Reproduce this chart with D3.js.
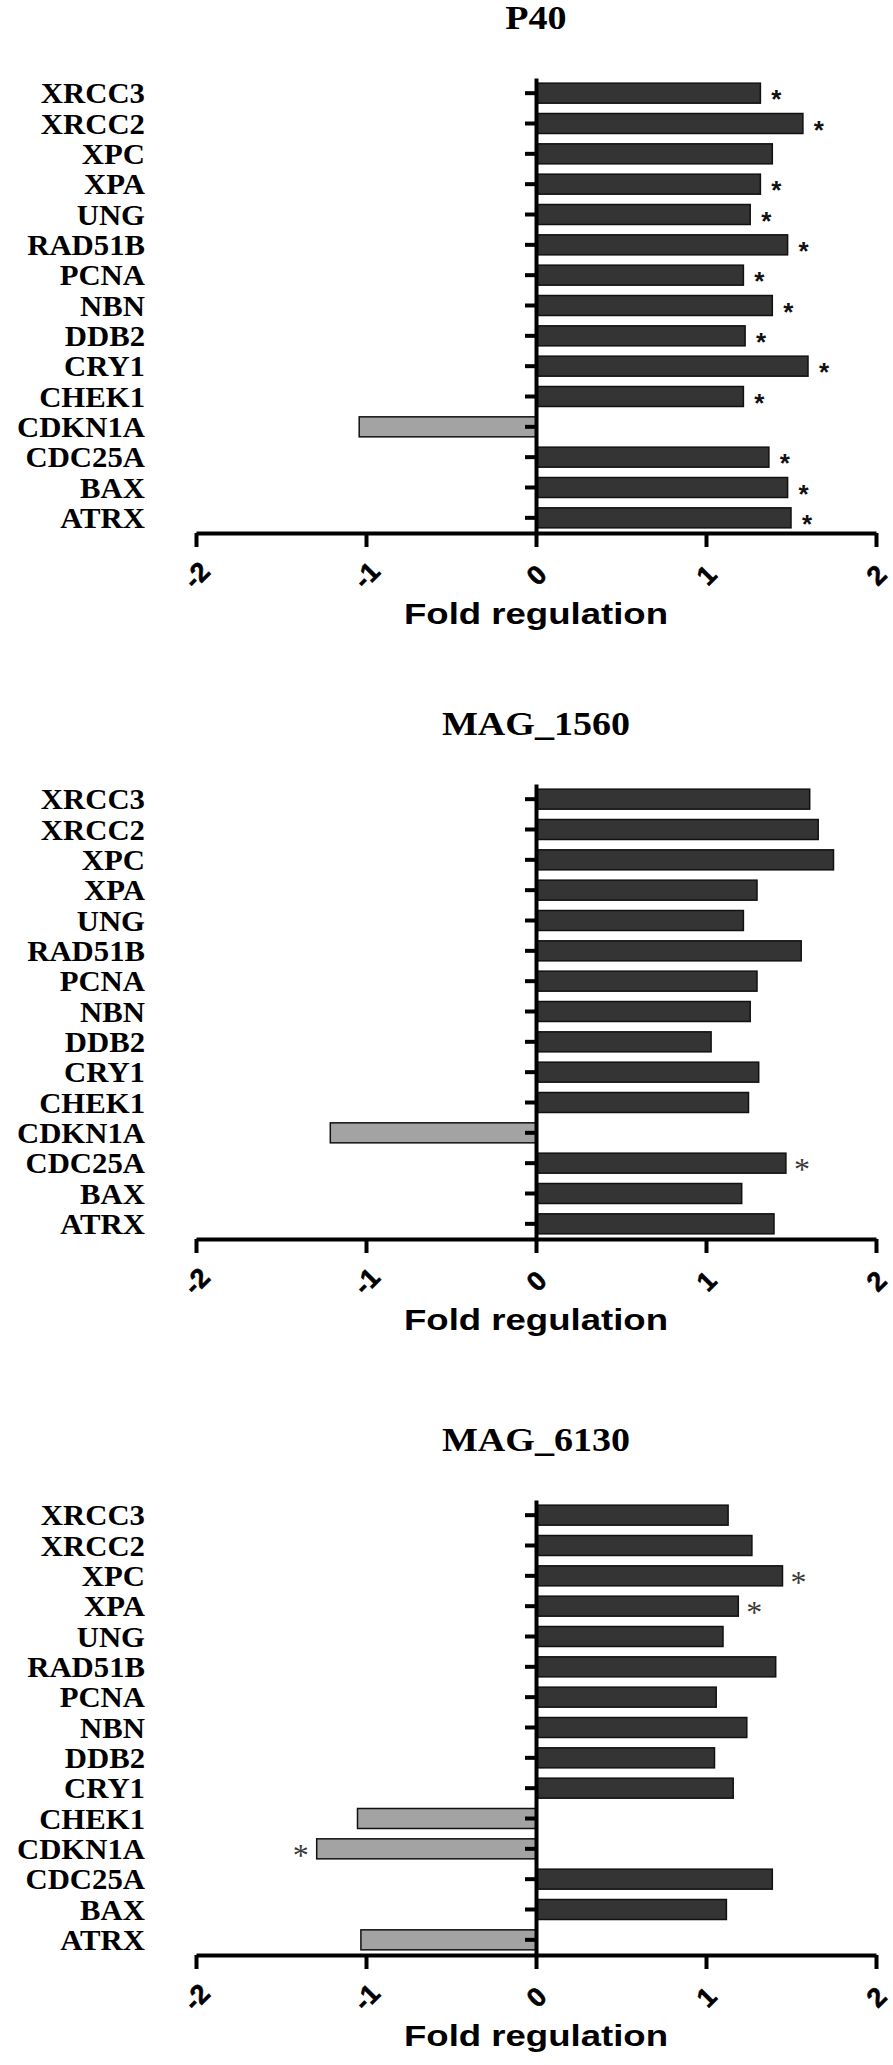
<!DOCTYPE html>
<html>
<head>
<meta charset="utf-8">
<script src="https://d3js.org/d3.v7.min.js"></script>
<style>
  body { margin: 0; background: #fff; }
</style>
</head>
<body>
<div id="chart"></div>
<script>
// genes, top to bottom
var genes = ["XRCC3", "XRCC2", "XPC", "XPA", "UNG", "RAD51B", "PCNA", "NBN",
             "DDB2", "CRY1", "CHEK1", "CDKN1A", "CDC25A", "BAX", "ATRX"];

var titles = ["P40", "MAG_1560", "MAG_6130"];

// fold regulation
var p40Values     = [1.32, 1.57, 1.39, 1.32, 1.26, 1.48, 1.22, 1.39, 1.23, 1.60, 1.22, -1.04, 1.37, 1.48, 1.50];
var mag1560Values = [1.61, 1.66, 1.75, 1.30, 1.22, 1.56, 1.30, 1.26, 1.03, 1.31, 1.25, -1.21, 1.47, 1.21, 1.40];
var mag6130Values = [1.13, 1.27, 1.45, 1.19, 1.10, 1.41, 1.06, 1.24, 1.05, 1.16, -1.05, -1.29, 1.39, 1.12, -1.03];

// significance stars (1 = *)
var p40Sig     = [1, 1, 0, 1, 1, 1, 1, 1, 1, 1, 1, 0, 1, 1, 1];
var mag1560Sig = [0, 0, 0, 0, 0, 0, 0, 0, 0, 0, 0, 0, 1, 0, 0];
var mag6130Sig = [0, 0, 1, 1, 0, 0, 0, 0, 0, 0, 0, 1, 0, 0, 0];

var xTicks = [-2, -1, 0, 1, 2];
var xTickLabels = ["-2", "-1", "0", "1", "2"];
var xLabel = "Fold regulation";

var panels = [
  { title: titles[0], values: p40Values, sig: p40Sig, offset: 0, boldStar: true },
  { title: titles[1], values: mag1560Values, sig: mag1560Sig, offset: 706, boldStar: false },
  { title: titles[2], values: mag6130Values, sig: mag6130Sig, offset: 1422, boldStar: false }
];

var W = 893, H = 2065;
var axisY = 533, topY = 78;

var svg = d3.select("#chart").append("svg")
  .attr("width", W).attr("height", H)
  .style("background", "#fff");

var x = d3.scaleLinear().domain([-2, 2]).range([196, 876]);
var y = d3.scaleBand().domain(genes).range([topY, axisY]);
var barH = 20;

panels.forEach(function(p) {
  var g = svg.append("g").attr("transform", "translate(0," + p.offset + ")");
  var data = genes.map(function(d, i) { return { gene: d, v: p.values[i], s: p.sig[i] }; });

  // title
  g.append("text")
    .attr("transform", "translate(536,29) scale(1.12,1)")
    .attr("text-anchor", "middle")
    .style("font-family", "'Liberation Serif', 'Times New Roman', serif")
    .style("font-weight", "bold")
    .style("font-size", "34px")
    .text(p.title);

  // bars
  g.selectAll("rect.bar")
    .data(data)
    .enter().append("rect")
    .attr("class", "bar")
    .attr("x", function(d) { return Math.min(x(0), x(d.v)); })
    .attr("y", function(d) { return y(d.gene) + y.bandwidth() / 2 - barH / 2; })
    .attr("width", function(d) { return Math.abs(x(d.v) - x(0)); })
    .attr("height", barH)
    .attr("fill", function(d) { return d.v < 0 ? "#a3a3a3" : "#343434"; })
    .attr("stroke", "#111")
    .attr("stroke-width", 1.5);

  // stars
  g.selectAll("text.star")
    .data(data.filter(function(d) { return d.s; }))
    .enter().append("text")
    .attr("class", "star")
    .attr("x", function(d) { return x(d.v) + (d.v < 0 ? -16 : 16); })
    .attr("y", function(d) { return y(d.gene) + y.bandwidth() / 2 + (p.boldStar ? 15 : 17); })
    .attr("text-anchor", "middle")
    .style("font-family", p.boldStar ? "'Liberation Sans', Arial, sans-serif" : "'Liberation Serif', 'Times New Roman', serif")
    .style("font-weight", p.boldStar ? "bold" : "normal")
    .style("font-size", p.boldStar ? "26px" : "32px")
    .attr("fill", p.boldStar ? "#111" : "#3a3a3a")
    .text("*");

  // gene labels
  g.selectAll("text.gene")
    .data(genes)
    .enter().append("text")
    .attr("class", "gene")
    .attr("transform", function(d) {
      return "translate(145," + (y(d) + y.bandwidth() / 2 + 10) + ") scale(1.06,1)";
    })
    .attr("text-anchor", "end")
    .style("font-family", "'Liberation Serif', 'Times New Roman', serif")
    .style("font-weight", "bold")
    .style("font-size", "29px")
    .text(function(d) { return d; });

  // y axis
  var yAxis = g.append("g")
    .attr("transform", "translate(" + x(0) + ",0)")
    .call(d3.axisLeft(y).tickSize(11).tickSizeOuter(0).tickFormat(""));
  yAxis.select(".domain").attr("stroke", "#000").attr("stroke-width", 4);
  yAxis.selectAll(".tick line").attr("stroke", "#000").attr("stroke-width", 4);

  // x axis
  var xAxis = g.append("g")
    .attr("transform", "translate(0," + axisY + ")")
    .call(d3.axisBottom(x).tickValues(xTicks).tickSize(14).tickSizeOuter(0)
      .tickFormat(function(d, i) { return xTickLabels[i]; }));
  xAxis.select(".domain").attr("stroke", "#000").attr("stroke-width", 4);
  xAxis.selectAll(".tick line").attr("stroke", "#000").attr("stroke-width", 4);
  xAxis.selectAll(".tick text")
    .attr("y", 0)
    .attr("dy", "0.35em")
    .attr("transform", "translate(0,42) rotate(-45)")
    .attr("text-anchor", "middle")
    .attr("fill", "#000")
    .attr("stroke", "#000")
    .attr("stroke-width", 0.6)
    .style("font-family", "'Liberation Sans', Arial, sans-serif")
    .style("font-weight", "bold")
    .style("font-size", "27px");

  // x axis title
  g.append("text")
    .attr("x", 536)
    .attr("y", axisY + 91)
    .attr("text-anchor", "middle")
    .attr("textLength", 264)
    .attr("lengthAdjust", "spacingAndGlyphs")
    .style("font-family", "'Liberation Sans', Arial, sans-serif")
    .style("font-weight", "bold")
    .style("font-size", "29px")
    .text(xLabel);
});
</script>
</body>
</html>
